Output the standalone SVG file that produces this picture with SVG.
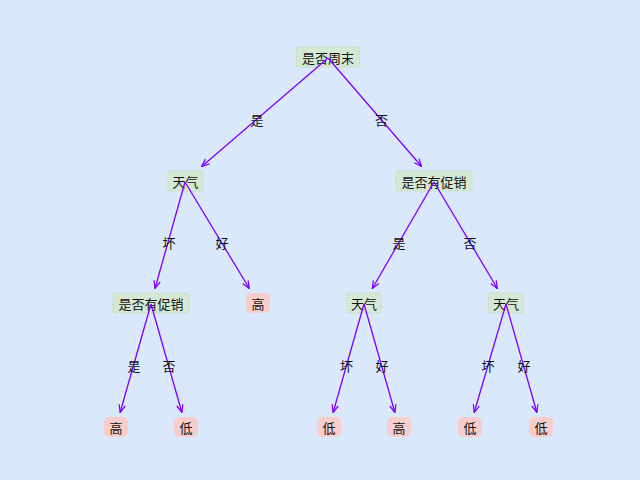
<svg xmlns="http://www.w3.org/2000/svg" width="640" height="480" viewBox="0 0 640 480">
<defs>
<marker id="ah" viewBox="0 0 10 10" refX="9.5" refY="5" markerWidth="9" markerHeight="9" markerUnits="userSpaceOnUse" orient="auto">
<path d="M1,1.5 L9.5,5 L1,8.5" fill="none" stroke="#7f00ff" stroke-width="1.4"/>
</marker>
<style>
text{font-family:"Noto Sans CJK SC","Noto Sans",sans-serif;font-size:13px;fill:#111;text-anchor:middle;dominant-baseline:central}
.dec{fill:#d5e8d4;stroke:#bcd6b8;stroke-width:1;stroke-dasharray:1.5 1.5}
.leaf{fill:#f8cecc;stroke:none}
.e{stroke:#7f00ff;stroke-width:1.3;fill:none;marker-end:url(#ah)}
</style>
</defs>
<rect width="640" height="480" fill="#dae8fc"/>
<g id="nodes">
<g id="root"><rect class="dec" x="296.5" y="47" width="63" height="20" rx="2"/><text x="328" y="57">是否周末</text></g>
<g id="weatherA"><rect class="dec" x="168" y="171" width="35" height="20" rx="2"/><text x="185.5" y="181">天气</text></g>
<g id="promoB"><rect class="dec" x="396" y="171" width="76" height="20" rx="2"/><text x="434" y="181">是否有促销</text></g>
<g id="promoA1"><rect class="dec" x="113" y="293" width="76" height="20" rx="2"/><text x="151" y="303">是否有促销</text></g>
<g id="highA2"><rect class="leaf" x="246" y="293" width="24" height="20" rx="5"/><text x="258" y="303">高</text></g>
<g id="weatherB1"><rect class="dec" x="346.5" y="293" width="35" height="20" rx="2"/><text x="364" y="303">天气</text></g>
<g id="weatherB2"><rect class="dec" x="488.5" y="293" width="35" height="20" rx="2"/><text x="506" y="303">天气</text></g>
<g id="L1"><rect class="leaf" x="104" y="417" width="24" height="20" rx="5"/><text x="116" y="427">高</text></g>
<g id="L2"><rect class="leaf" x="174" y="417" width="24" height="20" rx="5"/><text x="186" y="427">低</text></g>
<g id="L3"><rect class="leaf" x="317" y="417" width="24" height="20" rx="5"/><text x="329" y="427">低</text></g>
<g id="L4"><rect class="leaf" x="387" y="417" width="24" height="20" rx="5"/><text x="399" y="427">高</text></g>
<g id="L5"><rect class="leaf" x="458" y="417" width="24" height="20" rx="5"/><text x="470" y="427">低</text></g>
<g id="L6"><rect class="leaf" x="529" y="417" width="24" height="20" rx="5"/><text x="541" y="427">低</text></g>
</g>
<g id="connectors">
<path class="e" d="M328,58 L201.7,166.5"/>
<path class="e" d="M328,58 L421.6,166.5"/>
<path class="e" d="M185,182 L155,288.5"/>
<path class="e" d="M185,182 L249.3,288.5"/>
<path class="e" d="M434,182 L372.3,288.5"/>
<path class="e" d="M434,182 L497.4,288.5"/>
<path class="e" d="M151,304 L120.1,412.5"/>
<path class="e" d="M151,304 L181.9,412.5"/>
<path class="e" d="M364,304 L333.1,412.5"/>
<path class="e" d="M364,304 L394.9,412.5"/>
<path class="e" d="M506,304 L474.2,412.5"/>
<path class="e" d="M506,304 L536.9,412.5"/>
<text x="257" y="119">是</text>
<text x="381.5" y="119">否</text>
<text x="169" y="242">坏</text>
<text x="222" y="242">好</text>
<text x="399" y="242">是</text>
<text x="470" y="242">否</text>
<text x="134" y="365">是</text>
<text x="169" y="365">否</text>
<text x="346.5" y="365">坏</text>
<text x="382" y="365">好</text>
<text x="488" y="365">坏</text>
<text x="524" y="365">好</text>
</g>
</svg>
